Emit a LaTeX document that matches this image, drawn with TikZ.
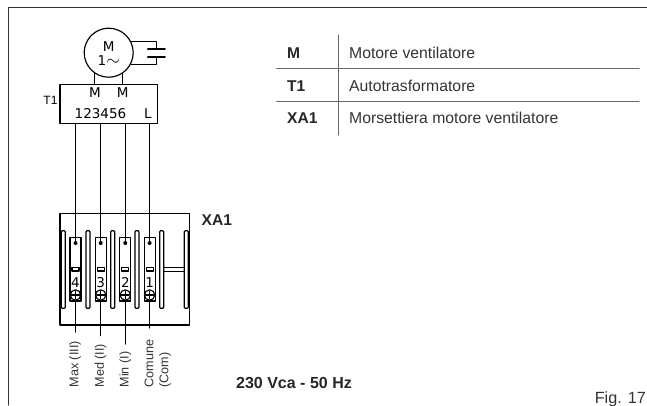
\documentclass[tikz,border=0pt]{standalone}
\usepackage{fontspec}
\setmainfont{Liberation Sans}
\newfontfamily\cadfont{DejaVu Sans}
\tikzset{
	wire/.style={line width=1.15pt,black},
	rule/.style={line width=1pt,black!60},
	cad/.style={inner sep=0pt,font=\cadfont\fontsize{13.5}{14}\selectfont,text=black},
	key/.style={inner sep=0pt,anchor=base west,font=\fontsize{15.6}{18}\bfseries\selectfont,text=black!85},
	txt/.style={inner sep=0pt,anchor=base west,font=\fontsize{15.75}{18}\selectfont,text=black!80},
	vert/.style={inner sep=0pt,rotate=90,anchor=west,font=\fontsize{12.6}{14}\selectfont,text=black!80}
}
\begin{document}
\begin{tikzpicture}[x=1pt,y=-1pt,line join=round,line cap=round]
	\useasboundingbox (0,0) rectangle (647,405);
	% frame
	\draw[rule,black!80] (8.5,405) -- (8.5,7.5) -- (647,7.5);
	% motor and capacitor
	\node[circle,draw,wire,minimum size=49pt,inner sep=0pt] (motor) at (108.7,52.7) {};
	\node[cad,align=center] (mM) at (108.7,53.5) {M\\[-0.5pt]1\smash{\fontsize{19}{19}\selectfont$\sim$}};
	\coordinate (capA) at (156.7,49);
	\coordinate (capB) at (156.7,56.7);
	\draw[wire] (motor.27) -- (capA |- motor.27) -- (capA);
	\draw[wire] (motor.-27) -- (capB |- motor.-27) -- (capB);
	\draw[wire,line width=1.6pt] (147.7,49) -- (165,49);
	\draw[wire,line width=1.6pt] (147.7,56.7) -- (165,56.7);
	% autotransformer
	\node[draw,wire,minimum width=97.7pt,minimum height=39.4pt,inner sep=0pt] (trafo) at (108.85,104) {};
	\draw[wire] (motor.-124) -- (motor.-124 |- trafo.north);
	\draw[wire] (motor.-56) -- (motor.-56 |- trafo.north);
	\node[cad] (mA) at (95,92.5) {M};
	\node[cad] (mB) at (122.7,92.5) {M};
	\node[cad] (nums) at (100.5,114) {123456};
	\node[cad] (mL) at (148,114) {L};
	\node[cad,font=\fontsize{12}{14}\selectfont] (tT) at (50.5,100) {T1};
	% terminal block
	\draw[wire] (60,325) -- (60,213.3) -- (189.3,213.3) -- (189.3,325) -- cycle;
	\foreach \bx in {63.3,88,112.7,137,161.7,186.3}
		\draw[wire,fill=white,rounded corners=1pt] (\bx-2,230.7) rectangle (\bx+2,308.3);
	\draw[wire] (163.7,267.3) -- (184.3,267.3) (163.7,271.3) -- (184.3,271.3);
	\foreach \tx/\tn/\tl in {75.5/4/332,100.7/3/335.7,125.3/2/344,149.6/1/328}{
		\draw[wire] (\tx,123.7) -- (\tx,243);
		\draw[wire] (\tx-5.5,237.7) rectangle (\tx+5.5,301);
		\fill[black] (\tx,243) circle (2pt);
		\draw[wire] (\tx-3.5,267.7) rectangle (\tx+3.5,271);
		\node[cad] (num\tn) at (\tx,282.5) {\tn};
		\draw[wire,fill=white] (\tx,295) circle (5.2pt);
		\draw[wire] (\tx-4,295) -- (\tx+4,295) (\tx,291) -- (\tx,299);
		\draw[wire] (\tx,301) -- (\tx,\tl);
	}
	\node[key] (xa) at (201.5,225) {XA1};
	% speed labels
	\node[vert] (vMax) at (75,387.5) {Max (III)};
	\node[vert] (vMed) at (100.7,387.5) {Med (II)};
	\node[vert] (vMin) at (125.3,387.5) {Min (I)};
	\node[vert] (vCom) at (149,387.5) {Comune};
	\node[vert] (vCo2) at (165,387.5) {(Com)};
	% legend
	\draw[rule] (338.3,35) -- (338.3,135);
	\draw[rule] (276.7,68.7) -- (639,68.7);
	\draw[rule] (276.7,101.7) -- (639,101.7);
	\node[key] (kM) at (287,58) {M};
	\node[txt] (dM) at (349,58) {Motore ventilatore};
	\node[key] (kT) at (287,91) {T1};
	\node[txt] (dT) at (349,91) {Autotrasformatore};
	\node[key] (kX) at (287,123.3) {XA1};
	\node[txt] (dX) at (349,123.3) {Morsettiera motore ventilatore};
	% bottom
	\node[key,font=\fontsize{16}{18}\bfseries\selectfont] (volt) at (236,388) {230 Vca - 50 Hz};
	\node[txt,anchor=base east,font=\fontsize{16.2}{18}\selectfont] (fig) at (646,403) {Fig. 17};
\end{tikzpicture}
\end{document}
